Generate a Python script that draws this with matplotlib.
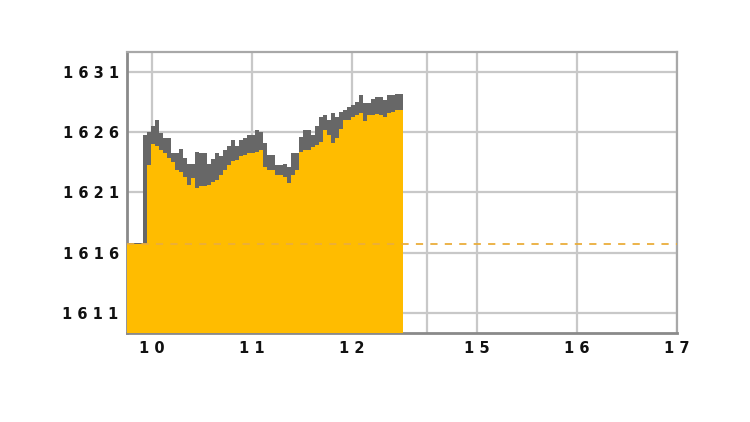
import numpy as np
import matplotlib.pyplot as plt

# Intraday index chart: grey band = high/low range, yellow area = low of each bar
prev_close = 1616.7
start_hour = 9.75      # first bar (chart time units, 1 unit = 1 hour)
bar_len = 0.04         # bar length in hours

low = [1616.7, 1616.7, 1616.7, 1616.7, 1616.7, 1623.3, 1625.0, 1624.9, 1624.5, 1624.3,
       1623.9, 1623.5, 1622.9, 1622.7, 1622.3, 1621.6, 1622.2, 1621.4, 1621.5, 1621.5,
       1621.6, 1621.9, 1622.0, 1622.45, 1622.9, 1623.3, 1623.6, 1623.7, 1624.0, 1624.1,
       1624.25, 1624.25, 1624.4, 1624.5, 1623.1, 1622.9, 1622.9, 1622.45, 1622.45, 1622.3,
       1621.8, 1622.45, 1622.9, 1624.4, 1624.5, 1624.5, 1624.8, 1624.95, 1625.2, 1626.2,
       1625.8, 1625.1, 1625.5, 1626.3, 1627.0, 1627.0, 1627.3, 1627.4, 1627.6, 1626.9,
       1627.4, 1627.4, 1627.5, 1627.45, 1627.3, 1627.6, 1627.7, 1627.85, 1627.85]
high = [1616.85, 1616.85, 1616.85, 1616.85, 1625.8, 1626.0, 1626.5, 1627.0, 1625.9, 1625.5,
        1625.5, 1624.3, 1624.3, 1624.6, 1623.9, 1623.4, 1623.4, 1624.4, 1624.25, 1624.25,
        1623.4, 1623.8, 1624.25, 1624.0, 1624.5, 1624.9, 1625.35, 1624.9, 1625.35, 1625.5,
        1625.8, 1625.8, 1626.2, 1626.05, 1625.1, 1624.1, 1624.1, 1623.3, 1623.3, 1623.4,
        1623.15, 1624.25, 1624.25, 1625.6, 1626.2, 1626.2, 1625.8, 1626.5, 1627.3, 1627.4,
        1627.0, 1627.6, 1627.3, 1627.7, 1627.85, 1628.1, 1628.3, 1628.5, 1629.1, 1628.4,
        1628.4, 1628.8, 1628.9, 1628.9, 1628.7, 1629.1, 1629.1, 1629.2, 1629.2]

y_ticks = [1611, 1616, 1621, 1626, 1631]
x_ticks = [10, 11, 12, 12.75, 13.25, 14.25, 15.25]
x_labels = ["10", "11", "12", "", "15", "16", "17"]

edges = start_hour + bar_len * np.arange(len(low) + 1)

fig = plt.figure(figsize=(7.5, 4.22), dpi=100)
ax = fig.add_axes([127 / 750, 89 / 422, 550 / 750, 281 / 422])

ax.stairs(high, edges, baseline=1600, fill=True, color="#676767", zorder=2)
ax.stairs(low, edges, baseline=1600, fill=True, color="#ffbc00", zorder=3)
ax.axhline(prev_close, color="#eaae3c", linestyle=(0, (4, 4)), lw=1.3, zorder=4)

ax.set_xlim(9.75, 15.25)
ax.set_ylim(1609.34, 1632.66)
ax.set_xticks(x_ticks)
ax.set_xticklabels([" ".join(s) for s in x_labels])
ax.set_yticks(y_ticks)
ax.set_yticklabels([" ".join(str(v)) for v in y_ticks])
ax.tick_params(length=0, labelsize=10.5, colors="#111111", pad=6)
for lbl in ax.get_xticklabels() + ax.get_yticklabels():
    lbl.set_fontweight("bold")
ax.grid(True, color="#c8c8c8", lw=1.6, zorder=0)
ax.set_axisbelow(True)

for side in ["top", "right"]:
    ax.spines[side].set_color("#a8a8a8")
    ax.spines[side].set_linewidth(1.6)
for side in ["left", "bottom"]:
    ax.spines[side].set_color("#8a8a8a")
    ax.spines[side].set_linewidth(2)

fig.savefig("out.png", dpi=100, facecolor="white")
